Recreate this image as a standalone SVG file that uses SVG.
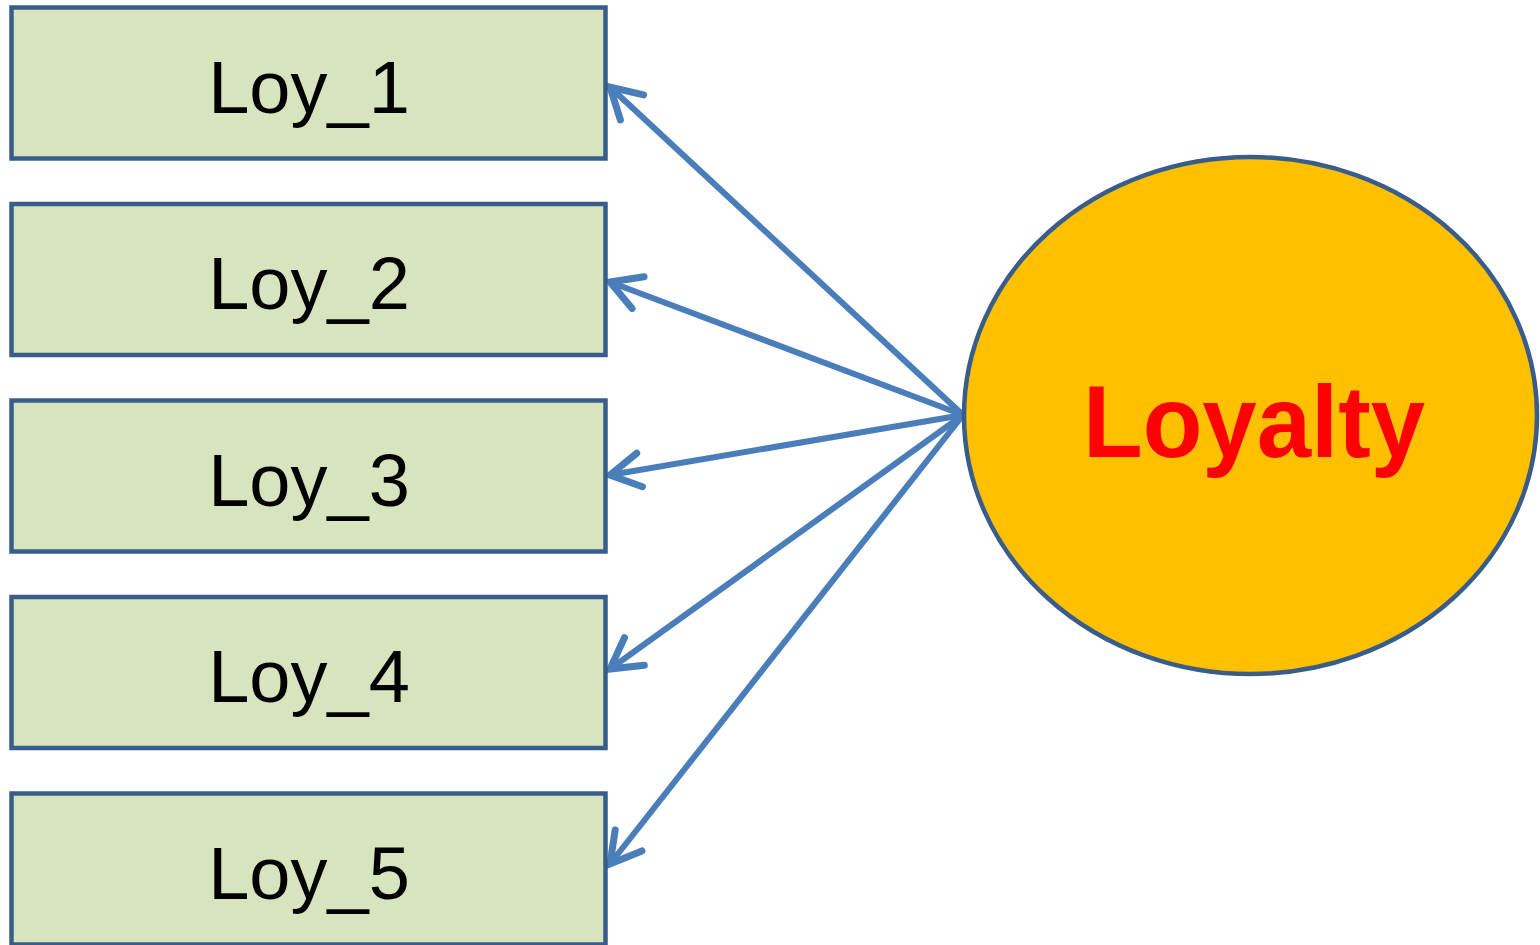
<svg xmlns="http://www.w3.org/2000/svg" width="1540" height="945" viewBox="0 0 1540 945">
  <style>
    .box { fill: #D7E4BD; stroke: #385D8A; stroke-width: 4.5; }
    .lbl { font-family: "Liberation Sans", Arial, sans-serif; font-size: 74px; fill: #000; text-anchor: middle; }
    .edge { stroke: #4A7EBB; stroke-width: 6; fill: none; marker-end: url(#arrow); }
  </style>
  <defs>
    <marker id="arrow" markerUnits="userSpaceOnUse" markerWidth="60" markerHeight="60" refX="0" refY="0" viewBox="-40 -30 60 60" orient="auto" overflow="visible">
      <path d="M -30 -17 L 0 0 L -30 17" fill="none" stroke="#4A7EBB" stroke-width="7" stroke-linecap="round" stroke-linejoin="miter"/>
    </marker>
  </defs>
  <rect width="1540" height="945" fill="#fff"/>

  <g id="connectors">
    <line class="edge" x1="963" y1="415" x2="610" y2="87"/>
    <line class="edge" x1="963" y1="415" x2="610" y2="282"/>
    <line class="edge" x1="963" y1="415" x2="610" y2="475"/>
    <line class="edge" x1="963" y1="415" x2="610" y2="669"/>
    <line class="edge" x1="963" y1="415" x2="610" y2="864"/>
  </g>

  <g id="loy1">
    <rect class="box" x="11.5" y="7.5" width="594" height="151"/>
    <text class="lbl" x="309" y="113">Loy_1</text>
  </g>
  <g id="loy2">
    <rect class="box" x="11.5" y="204" width="594" height="151"/>
    <text class="lbl" x="309" y="309">Loy_2</text>
  </g>
  <g id="loy3">
    <rect class="box" x="11.5" y="400.5" width="594" height="151"/>
    <text class="lbl" x="309" y="506">Loy_3</text>
  </g>
  <g id="loy4">
    <rect class="box" x="11.5" y="597" width="594" height="151"/>
    <text class="lbl" x="309" y="702">Loy_4</text>
  </g>
  <g id="loy5">
    <rect class="box" x="11.5" y="793.5" width="594" height="151"/>
    <text class="lbl" x="309" y="899">Loy_5</text>
  </g>

  <g id="loyalty">
    <ellipse cx="1250.5" cy="415.5" rx="286.5" ry="258.5" fill="#FFC000" stroke="#385D8A" stroke-width="4.5"/>
    <text x="1254" y="457" font-family="'Liberation Sans', Arial, sans-serif" font-weight="bold" font-size="102" fill="#FF0000" text-anchor="middle" textLength="342" lengthAdjust="spacingAndGlyphs">Loyalty</text>
  </g>
</svg>
